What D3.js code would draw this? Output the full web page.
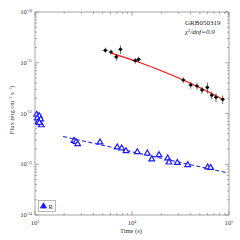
<!DOCTYPE html>
<html>
<head>
<meta charset="utf-8">
<script src="https://cdn.jsdelivr.net/npm/d3@7"></script>
<style>
  body { margin: 0; background: #fff; }
  text { font-family: "Liberation Serif", "DejaVu Serif", serif; }
</style>
</head>
<body>
<svg id="chart"></svg>
<script>
// X-ray points (black)
const xrayTime = [5310, 6080, 6890, 7600, 10800, 11700, 33800, 40300, 46800, 52700, 59800, 66300, 73500, 86100];
const xrayFlux = [1.76e-11, 1.63e-11, 1.30e-11, 1.84e-11, 1.10e-11, 1.17e-11, 4.57e-12, 3.65e-12, 3.48e-12, 2.91e-12, 3.28e-12, 2.29e-12, 2.09e-12, 1.90e-12];
const xrayTimeErr = [350, 350, 400, 400, 900, 700, 1800, 2200, 2400, 2600, 2800, 3000, 3200, 4500];
const xrayFluxErr = [2.2e-12, 2.0e-12, 2.0e-12, 3.5e-12, 1.4e-12, 1.5e-12, 6e-13, 5.5e-13, 5.5e-13, 4.5e-13, 8e-13, 4e-13, 4e-13, 3.5e-13];

// fitted curve through X-ray points (red)
const fitTime = [6220, 10740, 14620, 19440, 33800, 50230, 86100];
const fitFlux = [1.535e-11, 1.088e-11, 8.83e-12, 7.13e-12, 4.57e-12, 3.21e-12, 1.91e-12];

// optical R band (blue triangles)
const rTime = [1041, 1107, 1056, 1145, 1081, 1161, 1107,
  2523, 2648, 2755, 4677, 7046, 7830, 8670, 11350, 14390, 15970, 18970, 23330, 24050, 29310, 37510, 60260, 64700];
const rFlux = [9.5e-13, 8.9e-13, 8.05e-13, 7.7e-13, 6.9e-13, 5.9e-13, 6.6e-13,
  2.91e-13, 2.78e-13, 2.51e-13, 2.71e-13, 2.16e-13, 2.06e-13, 1.82e-13, 1.74e-13, 1.64e-13, 1.25e-13, 1.52e-13, 1.31e-13, 1.09e-13, 1.07e-13, 9.7e-14, 8.7e-14, 8.55e-14];

// power-law fit to R band (blue dashed)
const rFitTime = [1945, 95300];
const rFitFlux = [3.52e-13, 6.8e-14];

const xDecades = [3, 4, 5];
const yDecades = [-10, -11, -12, -13, -14];

const W = 240, H = 240;
const svg = d3.select("#chart").attr("width", W).attr("height", H);

const x = d3.scaleLog().domain([1e3, 1e5]).range([35, 229]);
const y = d3.scaleLog().domain([1e-14, 1e-10]).range([215, 12]);

// minor + major ticks
let xTicks = [], yTicks = [];
for (let e = 3; e < 5; e++) for (let m = 1; m < 10; m++) xTicks.push({v: m * Math.pow(10, e), major: m == 1});
xTicks.push({v: 1e5, major: true});
for (let e = -14; e < -10; e++) for (let m = 1; m < 10; m++) yTicks.push({v: m * Math.pow(10, e), major: m == 1});
yTicks.push({v: 1e-10, major: true});

const frame = "#8a8a8a";
let g = svg.append("g");

// left axis line is drawn a bit wider and lighter
g.append("line").attr("x1", 35).attr("x2", 35).attr("y1", 12).attr("y2", 215)
  .attr("stroke", "#d4d4d4").attr("stroke-width", 2.2);
g.append("line").attr("x1", 35).attr("x2", 229).attr("y1", 12).attr("y2", 12).attr("stroke", frame).attr("stroke-width", 0.8);
g.append("line").attr("x1", 35).attr("x2", 229).attr("y1", 215).attr("y2", 215).attr("stroke", frame).attr("stroke-width", 0.8);
g.append("line").attr("x1", 229).attr("x2", 229).attr("y1", 12).attr("y2", 215).attr("stroke", frame).attr("stroke-width", 0.8);

xTicks.forEach(function(t) {
  let len = t.major ? 4 : 2;
  let px = x(t.v);
  g.append("line").attr("x1", px).attr("x2", px).attr("y1", 215).attr("y2", 215 - len).attr("stroke", frame).attr("stroke-width", 0.7);
  g.append("line").attr("x1", px).attr("x2", px).attr("y1", 12).attr("y2", 12 + len).attr("stroke", frame).attr("stroke-width", 0.7);
});
yTicks.forEach(function(t) {
  let len = t.major ? 4 : 2;
  let py = y(t.v);
  g.append("line").attr("x1", 35).attr("x2", 35 + len).attr("y1", py).attr("y2", py).attr("stroke", frame).attr("stroke-width", 0.7);
  g.append("line").attr("x1", 229).attr("x2", 229 - len).attr("y1", py).attr("y2", py).attr("stroke", frame).attr("stroke-width", 0.7);
});

// tick labels
xDecades.forEach(function(e) {
  let t = g.append("text").attr("x", x(Math.pow(10, e))).attr("y", 225)
    .attr("text-anchor", "middle").attr("font-size", 6.5).attr("fill", "#333");
  t.append("tspan").text("10");
  t.append("tspan").attr("dy", -2.5).attr("font-size", 4).text(e);
});
yDecades.forEach(function(e) {
  let t = g.append("text").attr("x", 32).attr("y", y(Math.pow(10, e)) + 2)
    .attr("text-anchor", "end").attr("font-size", 6.5).attr("fill", "#333");
  t.append("tspan").text("10");
  t.append("tspan").attr("dy", -2.5).attr("font-size", 4).text(e);
});

// axis titles
svg.append("text").attr("x", 131).attr("y", 233).attr("text-anchor", "middle")
  .attr("font-size", 6.5).attr("fill", "#333").text("Time (s)");
let yl = svg.append("text").attr("transform", "translate(14,110) rotate(-90)")
  .attr("text-anchor", "middle").attr("font-size", 6.5).attr("fill", "#333");
yl.append("tspan").text("Flux (erg cm");
yl.append("tspan").attr("dy", -2.3).attr("font-size", 4).text("\u22122");
yl.append("tspan").attr("dy", 2.3).text(" s");
yl.append("tspan").attr("dy", -2.3).attr("font-size", 4).text("\u22121");
yl.append("tspan").attr("dy", 2.3).text(")");

// annotation
svg.append("text").attr("x", 185).attr("y", 25).attr("font-size", 7).attr("fill", "#222").text("GRB050319");
let chi = svg.append("text").attr("x", 185).attr("y", 34).attr("font-size", 7).attr("fill", "#222");
chi.append("tspan").attr("font-style", "italic").text("\u03c7");
chi.append("tspan").attr("dy", -2.5).attr("font-size", 4.5).text("2");
chi.append("tspan").attr("dy", 2.5).attr("font-style", "italic").text("/dof=0.9");

// blue dashed fit
let line = d3.line().x(d => x(d[0])).y(d => y(d[1]));
svg.append("path").datum(d3.zip(rFitTime, rFitFlux)).attr("d", line)
  .attr("fill", "none").attr("stroke", "#2323e0").attr("stroke-width", 1.1).attr("stroke-dasharray", "4,2.5");

// red fit curve
svg.append("path").datum(d3.zip(fitTime, fitFlux)).attr("d", line.curve(d3.curveMonotoneX))
  .attr("fill", "none").attr("stroke", "#ff1010").attr("stroke-width", 1.2);

// R band triangles
let tri = d3.symbol().type(d3.symbolTriangle).size(14);
svg.selectAll(".rpt").data(d3.zip(rTime, rFlux)).enter().append("path")
  .attr("class", "rpt")
  .attr("transform", d => "translate(" + x(d[0]) + "," + y(d[1]) + ")")
  .attr("d", tri).attr("fill", "white").attr("stroke", "#1a1aff").attr("stroke-width", 1.2);

// X-ray points with error bars
let xr = svg.append("g");
xrayTime.forEach(function(t, i) {
  let f = xrayFlux[i];
  xr.append("line").attr("x1", x(t - xrayTimeErr[i])).attr("x2", x(t + xrayTimeErr[i]))
    .attr("y1", y(f)).attr("y2", y(f)).attr("stroke", "#222").attr("stroke-width", 0.7);
  xr.append("line").attr("x1", x(t)).attr("x2", x(t))
    .attr("y1", y(f - xrayFluxErr[i])).attr("y2", y(f + xrayFluxErr[i])).attr("stroke", "#222").attr("stroke-width", 0.7);
  xr.append("circle").attr("cx", x(t)).attr("cy", y(f)).attr("r", 1.6).attr("fill", "#000");
});

// legend
svg.append("rect").attr("x", 38.5).attr("y", 200.5).attr("width", 17).attr("height", 11)
  .attr("fill", "white").attr("stroke", "#999").attr("stroke-width", 0.7);
svg.append("path").attr("transform", "translate(43.5,206.3)")
  .attr("d", d3.symbol().type(d3.symbolTriangle).size(16)).attr("fill", "#1a1aff").attr("stroke", "#1a1aff").attr("stroke-width", 0.8);
svg.append("text").attr("x", 48.5).attr("y", 208.5).attr("font-size", 6.5).attr("fill", "#222").text("R");
</script>
</body>
</html>
